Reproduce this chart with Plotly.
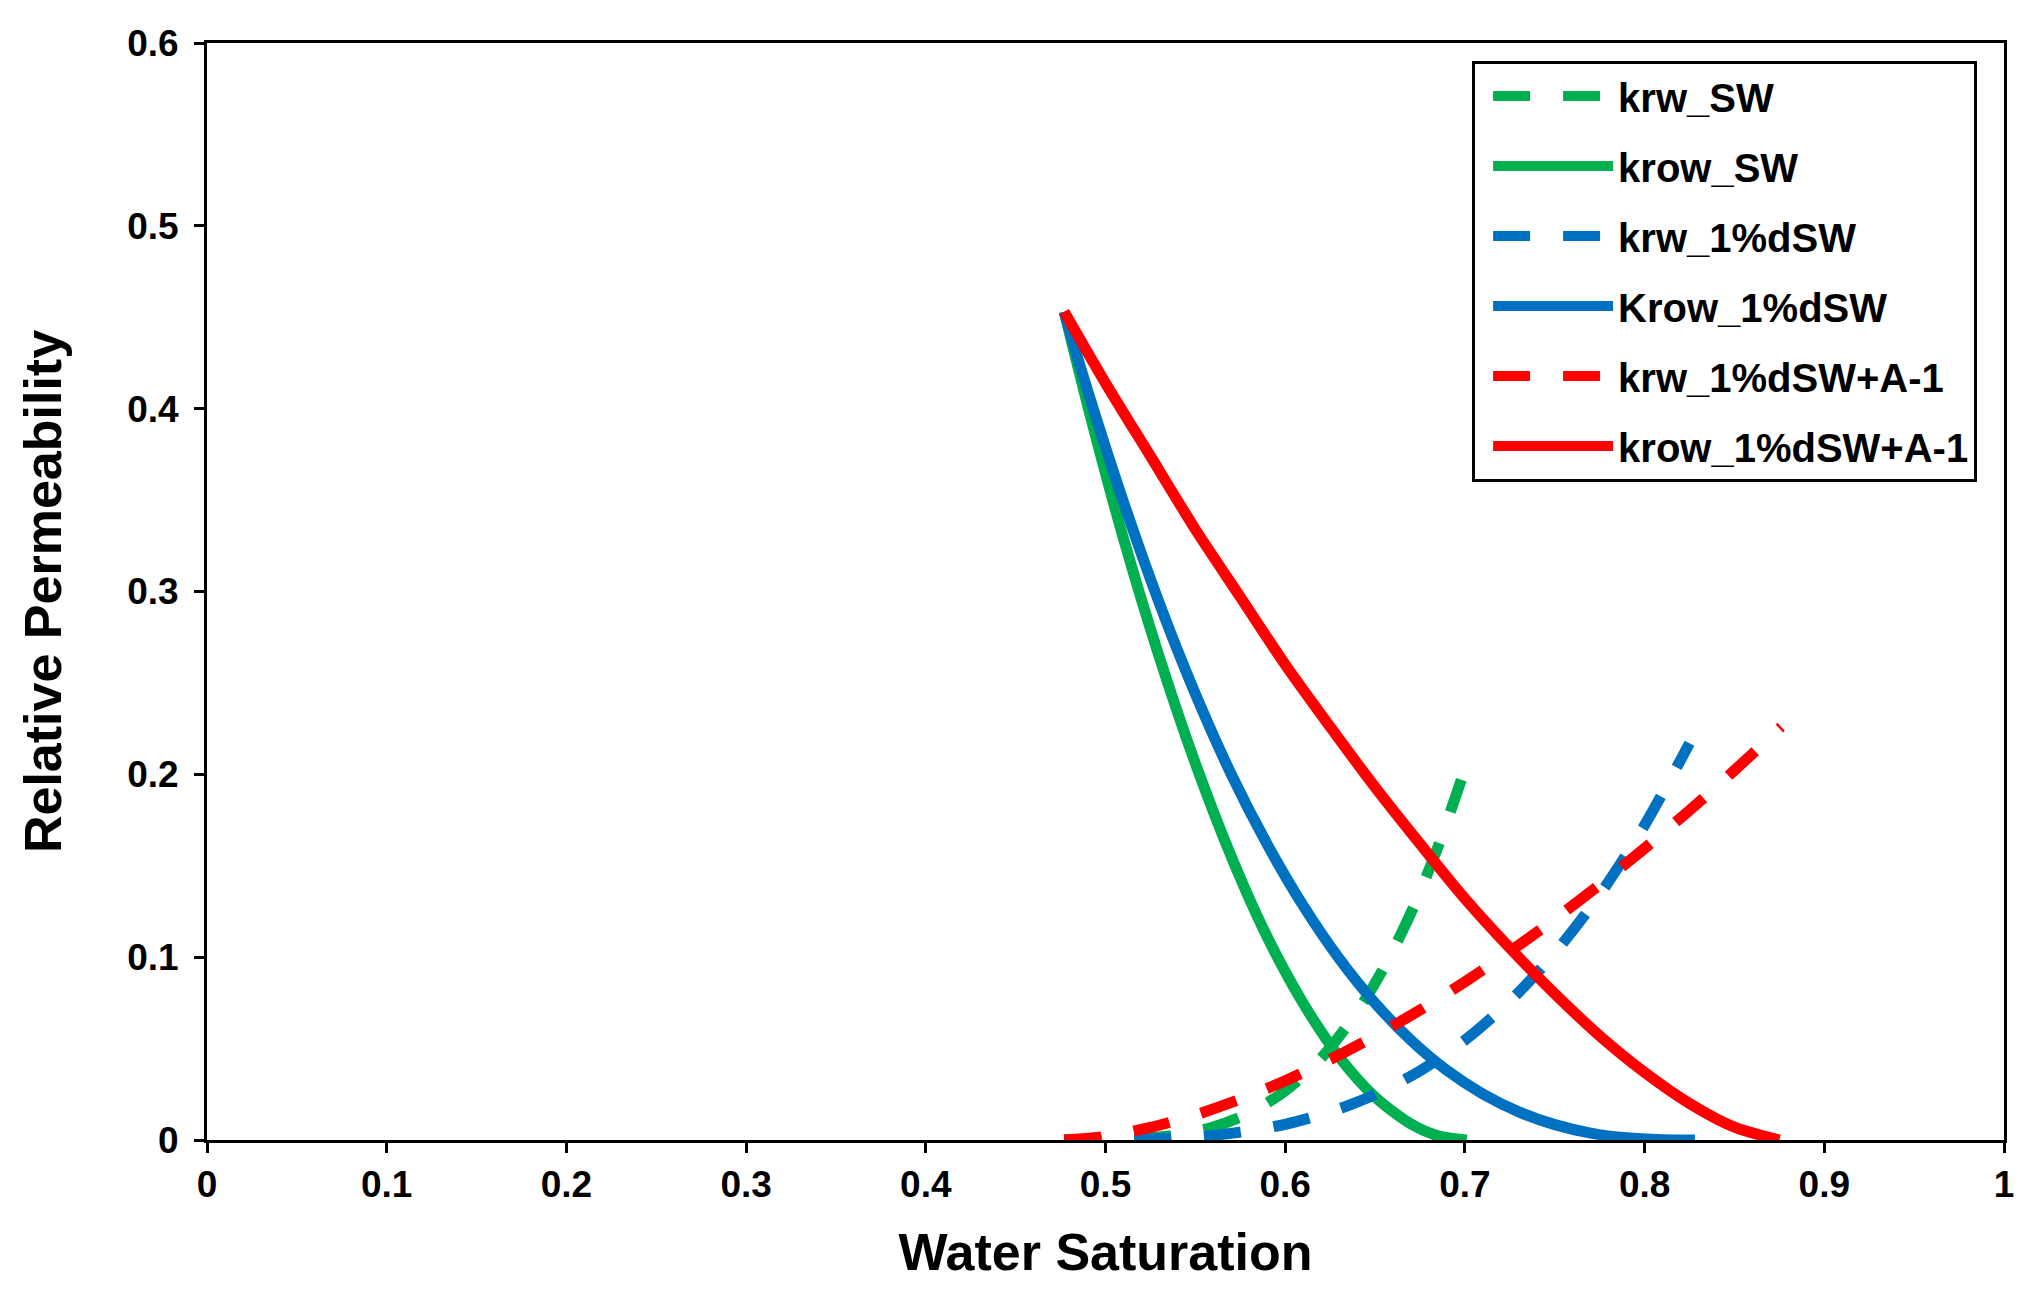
import plotly.graph_objects as go

# ---- data ----
krw_sw_x = [0.477, 0.50, 0.52, 0.54, 0.56, 0.58, 0.60, 0.62, 0.64, 0.655, 0.67, 0.685, 0.698]
krw_sw_y = [0.0, 0.0001, 0.0008, 0.0028, 0.0071, 0.0147, 0.0269, 0.0448, 0.070, 0.0944, 0.1243, 0.1603, 0.197]

krow_sw_x = [0.477, 0.49, 0.51, 0.53, 0.55, 0.57, 0.59, 0.61, 0.63, 0.65, 0.67, 0.685, 0.701]
krow_sw_y = [0.453, 0.402, 0.329, 0.264, 0.206, 0.155, 0.111, 0.0748, 0.0455, 0.0235, 0.0087, 0.0023, 0.0]

krw_d_x = [0.477, 0.50, 0.525, 0.55, 0.575, 0.60, 0.625, 0.65, 0.675, 0.70, 0.725, 0.75, 0.775, 0.80, 0.825]
krw_d_y = [0.0, 0.0, 0.0005, 0.0017, 0.0043, 0.0086, 0.0153, 0.0249, 0.0378, 0.0546, 0.0759, 0.1023, 0.1342, 0.1722, 0.217]

krow_d_x = [0.477, 0.49, 0.51, 0.53, 0.55, 0.57, 0.59, 0.61, 0.63, 0.65, 0.67, 0.69, 0.71, 0.73, 0.75, 0.77, 0.79, 0.81, 0.828]
krow_d_y = [0.453, 0.410, 0.349, 0.2935, 0.244, 0.200, 0.1617, 0.1282, 0.0993, 0.0749, 0.0546, 0.0381, 0.0252, 0.0154, 0.0084, 0.0038, 0.0012, 0.0002, 0.0]

krw_a_x = [0.477, 0.50, 0.525, 0.55, 0.575, 0.60, 0.625, 0.65, 0.675, 0.70, 0.725, 0.75, 0.775, 0.80, 0.825, 0.85, 0.876]
krw_a_y = [0.0, 0.002, 0.0069, 0.0137, 0.0223, 0.0324, 0.044, 0.0569, 0.0711, 0.0865, 0.1031, 0.1208, 0.1396, 0.1595, 0.1803, 0.2022, 0.226]

krow_a_x = [0.477, 0.50, 0.525, 0.55, 0.575, 0.60, 0.625, 0.65, 0.675, 0.70, 0.725, 0.75, 0.775, 0.80, 0.825, 0.85, 0.875]
krow_a_y = [0.453, 0.414, 0.374, 0.334, 0.297, 0.260, 0.226, 0.193, 0.162, 0.132, 0.105, 0.080, 0.057, 0.037, 0.020, 0.007, 0.0]

series = [
    ("krw_SW", krw_sw_x, krw_sw_y, "#00B050", True),
    ("krow_SW", krow_sw_x, krow_sw_y, "#00B050", False),
    ("krw_1%dSW", krw_d_x, krw_d_y, "#0070C0", True),
    ("Krow_1%dSW", krow_d_x, krow_d_y, "#0070C0", False),
    ("krw_1%dSW+A-1", krw_a_x, krw_a_y, "#FF0000", True),
    ("krow_1%dSW+A-1", krow_a_x, krow_a_y, "#FF0000", False),
]

x_ticks = [0, 0.1, 0.2, 0.3, 0.4, 0.5, 0.6, 0.7, 0.8, 0.9, 1]
y_ticks = [0, 0.1, 0.2, 0.3, 0.4, 0.5, 0.6]

FONT = "Liberation Sans, Arial, sans-serif"
DASH = "37px,33px"

fig = go.Figure()
for i, (name, xs, ys, col, dashed) in enumerate(series):
    fig.add_trace(go.Scatter(
        x=xs, y=ys, mode="lines", name=name, legendgroup=f"g{i}",
        line=dict(color=col, width=11, dash=DASH if dashed else "solid", shape="spline", smoothing=0.8),
    ))

axis_common = dict(
    showgrid=False, zeroline=False, showline=True, linecolor="black", linewidth=3,
    mirror=True, ticks="outside", ticklen=10, tickwidth=3, tickcolor="black",
    tickfont=dict(family=FONT, size=37, color="black", weight="bold"),
)

fig.update_layout(
    width=2027, height=1302,
    margin=dict(l=207, r=23, t=43, b=162),
    paper_bgcolor="white", plot_bgcolor="white",
    xaxis=dict(range=[0, 1], tickvals=x_ticks, ticktext=[f"{v:g}" for v in x_ticks],
               title=dict(text="Water Saturation", standoff=30,
                          font=dict(family=FONT, size=52, color="black", weight="bold")),
               **axis_common),
    yaxis=dict(range=[0, 0.6], tickvals=y_ticks, ticktext=[f"{v:g}" for v in y_ticks],
               ticklabelstandoff=8,
               title=dict(text="Relative Permeability", standoff=49,
                          font=dict(family=FONT, size=52, color="black", weight="bold")),
               **axis_common),
    legend=dict(
        x=0.704, y=0.984, xanchor="left", yanchor="top",
        bgcolor="white", bordercolor="black", borderwidth=3,
        font=dict(family=FONT, size=40, color="black", weight="bold"),
        itemwidth=120, tracegroupgap=15, indentation=13,
    ),
    showlegend=True,
)

fig.write_html("out.html")
